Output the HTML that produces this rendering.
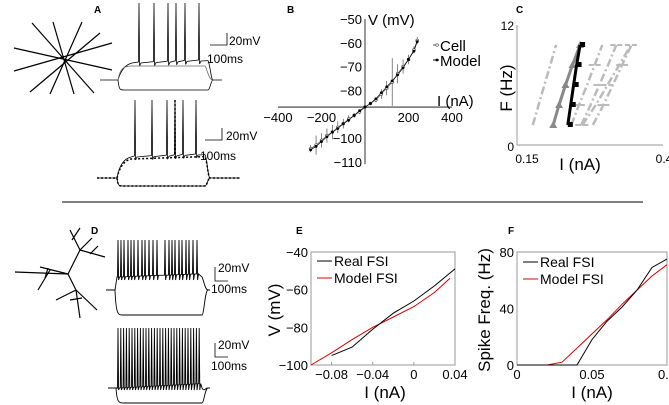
<!DOCTYPE html>
<html><head><meta charset="utf-8"><style>
html,body{margin:0;padding:0;background:#fff}
svg{display:block;font-family:"Liberation Sans",Arial,sans-serif}
</style></head><body>
<svg id="fig" width="669" height="405" viewBox="0 0 669 405" xmlns="http://www.w3.org/2000/svg">
<g font-weight="bold" font-size="10">
<text x="94" y="13">A</text>
<text x="287" y="13">B</text>
<text x="516" y="13">C</text>
<text x="91" y="234">D</text>
<text x="296" y="234">E</text>
<text x="508" y="234">F</text>
</g>
<line x1="62" y1="202" x2="643" y2="202" stroke="#000" stroke-width="1"/>
<g id="A"></g>
<g id="B"></g>
<g id="C"></g>
<g id="D"></g>
<g id="E"></g>
<g id="F"></g>
</svg>
<script>
// ---- Panel B data ----
const bCurrents = [-250,-225,-200,-175,-150,-125,-100,-75,-50,-25,0,25,50,75,100,125,150,175,200,225,240];
const bCell     = [-104.5,-103,-101,-99,-97.5,-95.5,-94,-92,-90.5,-89,-87,-85.5,-84,-81.5,-79,-76.5,-73,-70,-67,-63,-59];
const bModel    = [-105,-103.5,-101.5,-99.5,-97.5,-96,-94,-92.5,-90.5,-88.5,-87,-85.5,-83.5,-81,-78.5,-76,-73.5,-70.5,-67,-63.5,-59.5];
const bErr      = [1.5,4,3,3,3,2.5,2,1.5,1,1,0.5,0.5,1,2,3,10,4,3,2,1.5,1.5];
const bXTicks = [-400,-200,200,400];
const bYTicks = [-50,-60,-70,-80,-100,-110];
// ---- Panel C data ----
const cFreq = [2,4,6,8,10];
const cBlack = [0.237,0.242,0.247,0.252,0.258];
const cGray  = [0.212,0.222,0.233,0.245,0.258];
const cLight1 = [0.177,0.187,0.197,0.207,0.217];
const cLight2 = [0.243,0.256,0.27,0.283,0.296];
const cLight3 = [0.26,0.276,0.291,0.306,0.32];
const cLight4 = [0.28,0.298,0.314,0.33,0.346];
const cLight5 = [0.262,0.285,0.305,0.325,0.345];
// ---- Panel E data ----
const eRealI = [-0.08,-0.06,-0.04,-0.02,0,0.02,0.04];
const eRealV = [-95,-90.5,-81,-72.5,-66,-58,-49];
const eModelI = [-0.1,-0.08,-0.06,-0.04,-0.02,0,0.02,0.035];
const eModelV = [-100,-93.5,-86.5,-80,-74.5,-69,-61.5,-54];
const eXTicks = [-0.08,-0.04,0,0.04];
const eXLabels = ["-0.08","-0.04","0","0.04"];
const eYTicks = [-40,-60,-80,-100];
// ---- Panel F data ----
const fRealI = [0,0.02,0.04,0.05,0.06,0.07,0.08,0.09,0.1];
const fRealF = [0,0,0,18,31,41,53,69,75];
const fModelI = [0,0.02,0.03,0.04,0.05,0.06,0.07,0.08,0.09,0.1];
const fModelF = [0,0,2,12,22,32,43,53,63,71];
const fXTicks = [0,0.05,0.1];
const fXLabels = ["0","0.05","0.1"];
const fYTicks = [0,40,80];
// ---- trace spike times (px) ----
const aTopSpikes = [139,154,168,176,185,199];
const aBotSpikes = [135,152,167,175,183,196];
const dTopSpikes = [118,121,124,128,131,134,138,142,145,149,153,157,165,169,172,175,179,182,186,189,193,197];
const dBotSpikes = [118,120.8,123.6,126.4,129.2,132,134.8,137.6,140.4,143.2,146,148.8,151.6,154.4,157.2,160,162.8,165.6,168.4,171.2,174,176.8,179.6,182.4,185.2,188,190.8,193.6,196.4,199.2];

const NS="http://www.w3.org/2000/svg";
function mk(parent,tag,attrs,name,txt){
  const el=document.createElementNS(NS,tag);
  for(const k in attrs) el.setAttribute(k,attrs[k]);
  
  
  if(txt!==undefined) el.textContent=txt;
  parent.appendChild(el); return el;
}
function pts(xs,ys,sx,sy){return xs.map((x,i)=>sx(x).toFixed(1)+","+sy(ys[i]).toFixed(1)).join(" ");}
function scale(g,x,y,h,w,mvx,mvy,msx,msy){
  mk(g,'path',{d:`M${x},${y} L${x},${y+h} L${x+w},${y+h}`,fill:'none',stroke:'#000','stroke-width':0.8},'scale-bar');
  mk(g,'text',{x:mvx,y:mvy,'font-size':12},'scale-label-mv','20mV');
  mk(g,'text',{x:msx,y:msy,'font-size':12},'scale-label-ms','100ms');
}

// ===== Panel A =====
const A=document.getElementById('A');
[[32,23,94,93],[53,22,74,94],[82,22,50,94],[100,33,30,92],[14,48,112,70],[14,71,112,43]].forEach(l=>{
  mk(A,'line',{x1:l[0],y1:l[1],x2:l[2],y2:l[3],stroke:'#000','stroke-width':1.2},'neuron-branch');
});
function traceA(spikes,base,plat,top,hyp,x0,xs,xe,x1,withSpikes){
  let d=`M${x0},${base} L${xs},${base} C${xs+2},${plat+10} ${xs+6},${plat+2} ${xs+14},${plat}`;
  let y=plat;
  spikes.forEach(s=>{ if(withSpikes){ d+=` L${s-0.6},${y-1} L${s},${top} L${s+0.6},${y+3} L${s+2},${y}`;} y-=0.4;});
  d+=` L${xe},${y} C${xe+2},${y+3} ${xe+3},${base} ${xe+5},${base} L${x1},${base}`;
  d+=` M${xs},${base} C${xs+1},${hyp} ${xs+2},${hyp} ${xs+6},${hyp} L${xe},${hyp} C${xe+2},${hyp} ${xe+3},${base} ${xe+5},${base}`;
  return d;
}
mk(A,'path',{d:traceA(aTopSpikes,80,63,3,90,100,118,208,222,true),fill:'none',stroke:'#000','stroke-width':0.8},'cell-trace-top');
mk(A,'path',{d:'M118,80 C120,68 124,66 132,66 L205,66 C207,68 208,78 212,80',fill:'none',stroke:'#666','stroke-width':0.8},'cell-trace-subthreshold');
mk(A,'path',{d:traceA(aBotSpikes,178,157,100,186,97,117,205,240,true),fill:'none',stroke:'#000','stroke-width':0.8},'model-trace');
mk(A,'path',{d:traceA(aBotSpikes,178,159,100,186,97,117,205,240,false),fill:'none',stroke:'#000','stroke-width':1.5,'stroke-dasharray':'2,2'},'cell-trace-dotted');
mk(A,'line',{x1:175,y1:158,x2:175,y2:100,stroke:'#000','stroke-width':1.5,'stroke-dasharray':'2,2'},'dotted-spike');
scale(A,227,33,12,-17,229,45,207,63);
scale(A,222,128,12,-17,226,140,200,160);

// ===== Panel B =====
const B=document.getElementById('B');
const bx=v=>365+v*0.2175, by=v=>19+(-50-v)*2.38;
mk(B,'line',{x1:bx(-400),y1:by(-87),x2:bx(400),y2:by(-87),stroke:'#000','stroke-width':0.8},'x-axis');
mk(B,'line',{x1:bx(0),y1:by(-50),x2:bx(0),y2:by(-111),stroke:'#000','stroke-width':0.8},'y-axis');
bXTicks.forEach(t=>mk(B,'text',{x:bx(t),y:by(-87)+15,'font-size':13,'text-anchor':'middle'},'x-tick-label',String(t).replace('-','\u2212')));
bYTicks.forEach(t=>mk(B,'text',{x:bx(0)-3,y:by(t)+5,'font-size':13,'text-anchor':'end'},'y-tick-label',String(t).replace('-','\u2212')));
mk(B,'text',{x:368,y:25,'font-size':15},'y-axis-title','V (mV)');
mk(B,'text',{x:437,y:106,'font-size':15},'x-axis-title','I (nA)');
bCurrents.forEach((c,i)=>{
  mk(B,'line',{x1:bx(c),y1:by(bCell[i]-bErr[i]),x2:bx(c),y2:by(bCell[i]+bErr[i]),stroke:'#333','stroke-width':0.6},'error-bar');
});
mk(B,'polyline',{points:pts(bCurrents,bCell,bx,by),fill:'none',stroke:'#555','stroke-width':0.7},'cell-line');
mk(B,'polyline',{points:pts(bCurrents,bModel,bx,by),fill:'none',stroke:'#000','stroke-width':0.7},'model-line');
bCurrents.forEach((c,i)=>{
  mk(B,'circle',{cx:bx(c),cy:by(bCell[i]),r:1.4,fill:'#fff',stroke:'#444','stroke-width':0.6},'cell-point');
  mk(B,'circle',{cx:bx(c),cy:by(bModel[i]),r:1.4,fill:'#000'},'model-point');
});
mk(B,'line',{x1:433,y1:45,x2:439,y2:45,stroke:'#555'},'legend-line-cell');
mk(B,'circle',{cx:437,cy:45,r:1.3,fill:'#fff',stroke:'#555','stroke-width':0.6},'legend-marker-cell');
mk(B,'text',{x:440,y:51,'font-size':15},'legend-cell','Cell');
mk(B,'line',{x1:433,y1:60,x2:439,y2:60,stroke:'#000'},'legend-line-model');
mk(B,'circle',{cx:437,cy:60,r:1.4,fill:'#000'},'legend-marker-model');
mk(B,'text',{x:440,y:66,'font-size':15},'legend-model','Model');

// ===== Panel C =====
const C=document.getElementById('C');
const cx=v=>517+(v-0.15)*584, cy=v=>145-v*10;
mk(C,'path',{d:`M${cx(0.15)},${cy(12)} L${cx(0.15)},${cy(0)} L${cx(0.4)},${cy(0)}`,fill:'none',stroke:'#999','stroke-width':1},'axes');
mk(C,'text',{x:514,y:30,'font-size':12,'text-anchor':'end'},'y-tick-12','12');
mk(C,'text',{x:514,y:151,'font-size':12,'text-anchor':'end'},'y-tick-0','0');
mk(C,'text',{x:527,y:163,'font-size':12,'text-anchor':'middle'},'x-tick-0.15','0.15');
mk(C,'text',{x:664,y:163,'font-size':12,'text-anchor':'middle'},'x-tick-0.4','0.4');
mk(C,'text',{x:580,y:170,'font-size':17,'text-anchor':'middle'},'x-axis-title','I (nA)');
mk(C,'text',{x:0,y:0,'font-size':17,'text-anchor':'middle',transform:'translate(512,88) rotate(-90)'},'y-axis-title','F (Hz)');
[cLight1,cLight2,cLight3,cLight4,cLight5].forEach((s,k)=>{
  mk(C,'polyline',{points:pts(s,cFreq,cx,cy),fill:'none',stroke:'#bbb','stroke-width':2.5,'stroke-dasharray':'8,3,2,3'},'light-series-'+(k+1));
  if(k>0) s.forEach((v,i)=>{ if(i%2===k%2) mk(C,'line',{x1:cx(v)-6,y1:cy(cFreq[i]),x2:cx(v)+8,y2:cy(cFreq[i]),stroke:'#bbb','stroke-width':2,'stroke-dasharray':'5,2'},'light-dash');});
});
mk(C,'polyline',{points:pts(cGray,cFreq,cx,cy),fill:'none',stroke:'#888','stroke-width':3},'gray-series');
cGray.forEach((v,i)=>mk(C,'path',{d:`M${cx(v)-4},${cy(cFreq[i])+3} L${cx(v)},${cy(cFreq[i])-4} L${cx(v)+4},${cy(cFreq[i])+3}Z`,fill:'#888'},'gray-marker'));
mk(C,'polyline',{points:pts(cBlack,cFreq,cx,cy),fill:'none',stroke:'#000','stroke-width':3},'black-series');
cBlack.forEach((v,i)=>mk(C,'rect',{x:cx(v),y:cy(cFreq[i])-3,width:5,height:5,fill:'#000'},'black-marker'));

// ===== Panel D =====
const D=document.getElementById('D');
[[15,272,68,274],[40,267,68,274],[68,274,80,250],[80,250,70,230],[80,250,92,238],[72,240,80,228],[80,250,105,257],[90,254,98,246],[68,274,76,290],[76,290,56,300],[76,290,97,310],[76,290,80,318],[82,298,70,300],[50,270,38,290],[45,278,48,268]].forEach(l=>{
  mk(D,'line',{x1:l[0],y1:l[1],x2:l[2],y2:l[3],stroke:'#000','stroke-width':1.2},'neuron-branch');
});
function traceD(spikes,base,plat,top,trough,hyp,x0,xs,xe,x1){
  let d=`M${x0},${base} L${xs},${base} L${xs+2},${plat}`;
  spikes.forEach((s,i)=>{ const p=plat-i*0.15; d+=` L${s-0.5},${p} L${s},${top} L${s+0.6},${trough} L${s+1.5},${p}`;});
  d+=` L${xe},${plat} C${xe+2},${plat+4} ${xe+3},${base} ${xe+6},${base} L${x1},${base}`;
  d+=` M${xs},${base} C${xs+1},${hyp} ${xs+3},${hyp} ${xs+8},${hyp} L${xe},${hyp} C${xe+2},${hyp} ${xe+3},${base} ${xe+6},${base}`;
  return d;
}
mk(D,'path',{d:traceD(dTopSpikes,290,277,240,280,315,106,115,202,210),fill:'none',stroke:'#000','stroke-width':0.9},'fsi-cell-trace');
mk(D,'path',{d:traceD(dBotSpikes,388,388,328,390,403,108,116,202,210),fill:'none',stroke:'#000','stroke-width':0.9},'fsi-model-trace');
scale(D,215,267,14,13,218,272,211,293);
scale(D,215,343,14,13,218,349,211,370);

// ===== Panel E =====
const E=document.getElementById('E');
const ex=v=>311+(v+0.1)*1028.6, ey=v=>252+(-40-v)*(113/60);
mk(E,'rect',{x:311,y:252,width:144,height:113,fill:'none',stroke:'#999','stroke-width':1},'plot-frame');
eXTicks.forEach((t,i)=>{
  mk(E,'line',{x1:ex(t),y1:365,x2:ex(t),y2:362,stroke:'#999'},'x-tick');
  mk(E,'text',{x:ex(t),y:379,'font-size':13,'text-anchor':'middle'},'x-tick-label',eXLabels[i].replace('-','\u2212'));
});
eYTicks.forEach(t=>mk(E,'text',{x:308,y:ey(t)+5,'font-size':13,'text-anchor':'end'},'y-tick-label',String(t).replace('-','\u2212')));
mk(E,'text',{x:385,y:398,'font-size':17,'text-anchor':'middle'},'x-axis-title','I (nA)');
mk(E,'text',{x:0,y:0,'font-size':17,'text-anchor':'middle',transform:'translate(280,310) rotate(-90)'},'y-axis-title','V (mV)');
mk(E,'polyline',{points:pts(eModelI,eModelV,ex,ey),fill:'none',stroke:'#d00','stroke-width':1},'model-fsi-line');
mk(E,'polyline',{points:pts(eRealI,eRealV,ex,ey),fill:'none',stroke:'#000','stroke-width':1},'real-fsi-line');
mk(E,'line',{x1:317,y1:261,x2:332,y2:261,stroke:'#000'},'legend-line-real');
mk(E,'text',{x:334,y:266,'font-size':14},'legend-real','Real FSI');
mk(E,'line',{x1:317,y1:278,x2:332,y2:278,stroke:'#d00'},'legend-line-model');
mk(E,'text',{x:334,y:283,'font-size':14},'legend-model','Model FSI');

// ===== Panel F =====
const F=document.getElementById('F');
const fx=v=>517+v*1500, fy=v=>365-v*(113/80);
mk(F,'rect',{x:517,y:252,width:150,height:113,fill:'none',stroke:'#999','stroke-width':1},'plot-frame');
fXTicks.forEach((t,i)=>mk(F,'text',{x:fx(t),y:379,'font-size':13,'text-anchor':'middle'},'x-tick-label',fXLabels[i]));
fYTicks.forEach(t=>mk(F,'text',{x:514,y:fy(t)+5,'font-size':13,'text-anchor':'end'},'y-tick-label',String(t)));
mk(F,'text',{x:592,y:398,'font-size':17,'text-anchor':'middle'},'x-axis-title','I (nA)');
mk(F,'text',{x:0,y:0,'font-size':17,'text-anchor':'middle',transform:'translate(490,310) rotate(-90)'},'y-axis-title','Spike Freq. (Hz)');
mk(F,'polyline',{points:pts(fModelI,fModelF,fx,fy),fill:'none',stroke:'#d00','stroke-width':1},'model-fsi-line');
mk(F,'polyline',{points:pts(fRealI,fRealF,fx,fy),fill:'none',stroke:'#000','stroke-width':1},'real-fsi-line');
mk(F,'line',{x1:523,y1:262,x2:538,y2:262,stroke:'#000'},'legend-line-real');
mk(F,'text',{x:540,y:267,'font-size':14},'legend-real','Real FSI');
mk(F,'line',{x1:523,y1:279,x2:538,y2:279,stroke:'#d00'},'legend-line-model');
mk(F,'text',{x:540,y:284,'font-size':14},'legend-model','Model FSI');
</script>
</body></html>
